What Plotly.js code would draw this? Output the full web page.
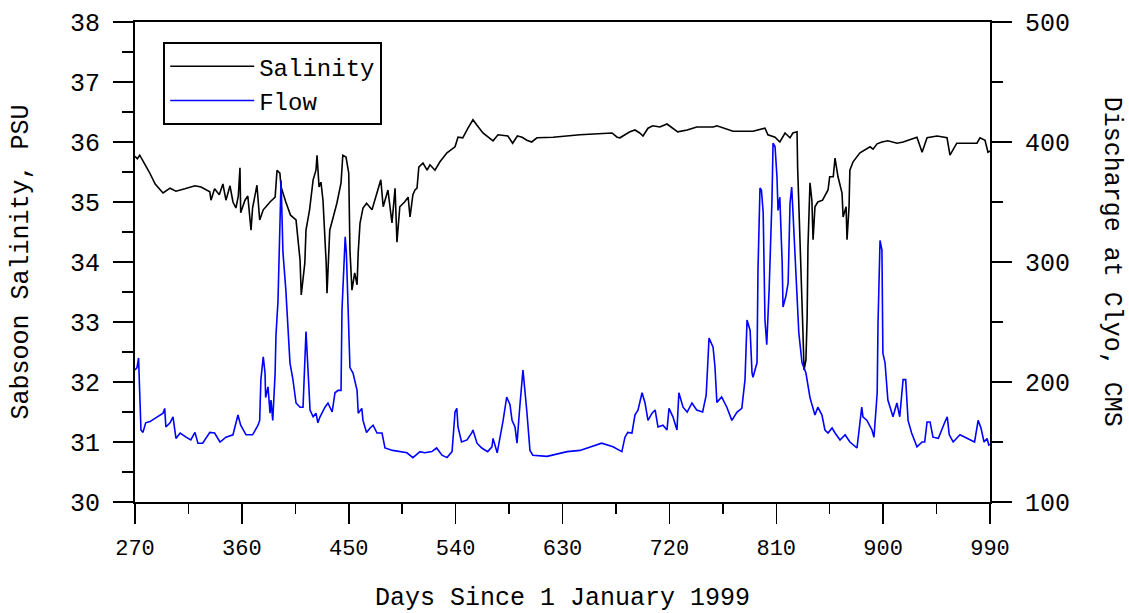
<!DOCTYPE html>
<html>
<head>
<meta charset="utf-8">
<script src="https://cdn.plot.ly/plotly-3.0.1.min.js"></script>
<style>
html,body{margin:0;padding:0;background:#fff;}
#chart{width:1129px;height:613px;}
</style>
</head>
<body>
<div id="chart"></div>
<script>
// Salinity (PSU) vs days since 1 January 1999
const salDays = [270,272,274,277,282,287,293.6,299.5,304.5,312,320.5,325.6,330,333,334,337,341,344,346.6,350,352.5,355,357,358.4,359,362.6,365,367.7,369,372.7,375,378,380.3,383.7,388,389.6,392,393,397,401,405.6,409,410,413,414,417,420,422.4,423.3,425,426.6,428.3,431,431.7,434,438.4,440,443.5,445,447.7,450,451,452.7,455,457,458,459.5,462,465,469.6,473.8,477,479,483,486.4,489,490.6,493,497,500,501.6,504,505.8,507.5,509,512.5,516,518.4,522.6,526.8,532.7,539.5,542,546,550.4,554.6,558,563,571.5,575.7,584,588,592,596,600,604,608.5,622,644.7,653,671.7,676,678.4,682.6,686.8,691,695,697.8,702,706,712,718,723,727,735,743,757,760,773.6,790.4,800.5,803,809,813,817.4,821.6,824,827.5,828,830,831.7,832.5,833.4,835,836,836.7,838.4,840,841,842.6,845,849,853.6,855,858,859.5,862,865.4,866.3,868.8,869.6,871.3,872,874.7,880.5,884.7,889,891.5,894.9,899,904,911.7,916.8,928.5,932.8,937,945.4,953.8,956.3,962,970.6,979,981.6,985.8,988.3,990];
const salinity = [35.76,35.72,35.78,35.68,35.5,35.3,35.15,35.23,35.18,35.22,35.27,35.25,35.2,35.17,35.03,35.22,35.12,35.3,35.03,35.27,35.0,34.9,35.1,35.57,34.82,35.03,35.1,34.53,34.9,35.28,34.7,34.87,34.92,35.0,35.08,35.53,35.48,35.25,35.0,34.78,34.7,34.03,33.45,33.98,34.53,34.87,35.37,35.53,35.78,35.25,35.33,35.03,33.98,33.48,34.53,34.83,34.98,35.32,35.78,35.75,35.48,34.2,33.53,33.82,33.62,34.17,34.65,34.9,34.98,34.87,35.15,35.37,34.92,35.2,34.65,35.23,34.33,34.92,35.0,35.08,34.75,35.12,35.2,35.23,35.58,35.65,35.53,35.62,35.53,35.67,35.82,35.92,36.08,36.07,36.23,36.37,36.28,36.15,36.02,36.12,36.1,35.98,36.1,36.08,36.03,36.0,36.07,36.08,36.12,36.13,36.15,36.08,36.07,36.12,36.17,36.2,36.15,36.1,36.23,36.27,36.25,36.3,36.23,36.17,36.2,36.25,36.25,36.27,36.18,36.18,36.23,36.12,36.08,36.0,36.15,36.07,36.15,36.17,35.58,34.48,33.37,32.82,32.2,32.37,33.08,34.25,35.32,35.03,34.37,34.92,35.0,35.03,35.2,35.42,35.42,35.73,35.42,35.15,34.75,34.92,34.37,34.92,35.53,35.67,35.82,35.87,35.92,35.88,35.97,36.0,36.02,35.98,36.0,36.08,35.83,36.07,36.1,36.07,35.78,35.98,35.98,35.98,36.07,36.03,35.83,35.85];

// Discharge at Clyo (CMS)
const flowDays = [270,271.7,273,274,275,276.7,279,282.6,287.7,293.6,295,296,299.5,302,304.5,308,313,317,320.5,323,327,333,337,341.6,346.6,352.5,356.7,359,363.5,369,373.6,375,376,378,379.5,380,382,383.7,384.5,386,388,388.7,390.4,392,393,394.6,396,397,400.5,403,405.6,409,411.5,413,414,415.7,417.4,420,422.4,424,425.8,430,432.5,436,438.4,441,443.5,444.3,447,448,449.5,451,453.6,457,458,461,462,465,468,470.5,473.8,478,480.5,487,499,504,510,514,520,524,528.5,532.7,537,539.5,541,542,545,549.6,553.8,554.6,558,562,567,570.6,571.5,575,580,583,585.8,587.5,590,591.7,594,596,596.7,600,602.6,605,617,634,644.7,663,672.5,680,682.6,685,688.5,691,693.6,697,699.5,702,705.4,708,710.4,714.6,718,719.7,723,726.4,728,731.5,735,739,743,748,751,753.4,756.8,758.4,760,764,768.4,772.6,777,781,783.7,785.4,788,789.6,790.4,793.8,794.6,796.3,797.5,799,800.5,802,804,806.4,807.3,809,810.6,811.5,813,815,815.7,818,820,821.6,823,824,827.5,829,831.7,835,838.4,842.6,845,848.5,851,853.6,857,859.5,863.7,868,872,878,882,883,886.4,890.6,892.3,895,895.7,897.4,899,899.8,901.6,904,908.3,911.6,914,916.8,919,921,924,928.5,932.8,935,937,939.5,942,946.5,952,954,955.7,959,964.7,970.6,977,980,982.4,985,987.5,989,990];
const flow = [210,212,220,185,160,158,166,167,170,174,178,162.5,166,171,153,157.5,154,151.7,158,149,149,158,157.5,150,154,156,172.5,164,156,156,164,168,202,221,207.5,187,196,174,185,168,207.5,239,267,346,368,308,291,277,216,202,182.5,179,179,227,242,210,176.7,171,174,166,171,179,182.5,175,191,193,193,260,321,307.5,268,212,207.5,193,174,178,168,158,161.7,164,157.5,157.5,145,143,141,137,142,141,142,145,139,137,142,175,178,162.5,150,151.7,158,160,149,145,142,146,153,141,168,187.5,181,168,162.5,149,179,206,210,175,143,139,138,142,143,149,146,142,154,158,157.5,172.5,176.7,191,182.5,168,174,176.7,162.5,164,160,178,171,160,191,179,175,182.5,176.7,175,189,236.7,229,212.5,183,187.5,179,168,175,178,202,251.7,243,207.5,204,216,292,361.7,360,341,251.7,231,277,352,399,396,371,343,354,299,262.5,271,282.5,349,362.5,343,277,241,216,207.5,187,172.5,179,172.5,160,157.5,161.7,157.5,151.7,156,150,145,179,171,168,160,154,191,249,318,310,224,216,185,171,182.5,171,202,202,168,157.5,146,150,150,166.7,166.7,154,153,166.7,171,156,150,156,153,150,168,161.7,150,153,147.5,148];

const xTicks = [270,360,450,540,630,720,810,900,990];
const yLeftTicks = [30,31,32,33,34,35,36,37,38];
const yRightTicks = [100,200,300,400,500];

const FONT = '"Liberation Mono", "Courier New", monospace';

const traces = [
  {x: salDays, y: salinity, name: 'Salinity', type: 'scatter', mode: 'lines',
   line: {color: '#000000', width: 1.6}, yaxis: 'y'},
  {x: flowDays, y: flow, name: 'Flow', type: 'scatter', mode: 'lines',
   line: {color: '#0000ff', width: 1.6}, yaxis: 'y2'}
];

const layout = {
  width: 1129, height: 613,
  margin: {l: 135, r: 139, t: 22, b: 111},
  paper_bgcolor: '#ffffff', plot_bgcolor: '#ffffff',
  font: {family: FONT, color: '#000', size: 24},
  showlegend: true,
  legend: {x: 0.033, y: 0.958, xanchor: 'left', yanchor: 'top',
    bordercolor: '#000', borderwidth: 2, bgcolor: '#fff',
    font: {family: FONT, size: 24, color: '#000'}, itemwidth: 84,
    entrywidth: 280, tracegroupgap: 0},
  xaxis: {
    range: [270, 990], tickvals: xTicks, ticktext: xTicks.map(String),
    ticks: 'outside', ticklen: 20, tickwidth: 1.5, tickcolor: '#000',
    minor: {dtick: 45, tick0: 270, ticks: 'outside', ticklen: 10, tickwidth: 1.5, tickcolor: '#000'},
    showline: true, linecolor: '#000', linewidth: 2, mirror: true,
    showgrid: false, zeroline: false,
    tickfont: {family: FONT, size: 22, color: '#000'},
    ticklabelstandoff: 5,
    title: {text: 'Days Since 1 January 1999', font: {family: FONT, size: 25, color: '#000'}, standoff: 33}
  },
  yaxis: {
    range: [30, 38], tickvals: yLeftTicks, ticktext: yLeftTicks.map(String),
    ticks: 'outside', ticklen: 20, tickwidth: 1.5, tickcolor: '#000',
    minor: {dtick: 0.5, tick0: 30, ticks: 'outside', ticklen: 11, tickwidth: 1.5, tickcolor: '#000'},
    showline: true, linecolor: '#000', linewidth: 2,
    showgrid: false, zeroline: false,
    tickfont: {family: FONT, size: 25, color: '#000'},
    ticklabelstandoff: 8,
    title: {text: 'Sabsoon Salinity, PSU', font: {family: FONT, size: 25, color: '#000'}, standoff: 34}
  },
  yaxis2: {
    range: [100, 500], tickvals: yRightTicks, ticktext: yRightTicks.map(String),
    overlaying: 'y', side: 'right', anchor: 'x',
    ticks: 'outside', ticklen: 20, tickwidth: 1.5, tickcolor: '#000',
    minor: {dtick: 50, tick0: 100, ticks: 'outside', ticklen: 11, tickwidth: 1.5, tickcolor: '#000'},
    showline: true, linecolor: '#000', linewidth: 2,
    showgrid: false, zeroline: false,
    tickfont: {family: FONT, size: 25, color: '#000'},
    ticklabelstandoff: 8
  },
  annotations: [
    {text: 'Discharge at Clyo, CMS', xref: 'paper', yref: 'paper',
     x: 1.143, y: 0.5, xanchor: 'center', yanchor: 'middle', textangle: 90,
     showarrow: false, font: {family: FONT, size: 25, color: '#000'}}
  ]
};

Plotly.newPlot('chart', traces, layout, {displayModeBar: false, staticPlot: true});
</script>
</body>
</html>
